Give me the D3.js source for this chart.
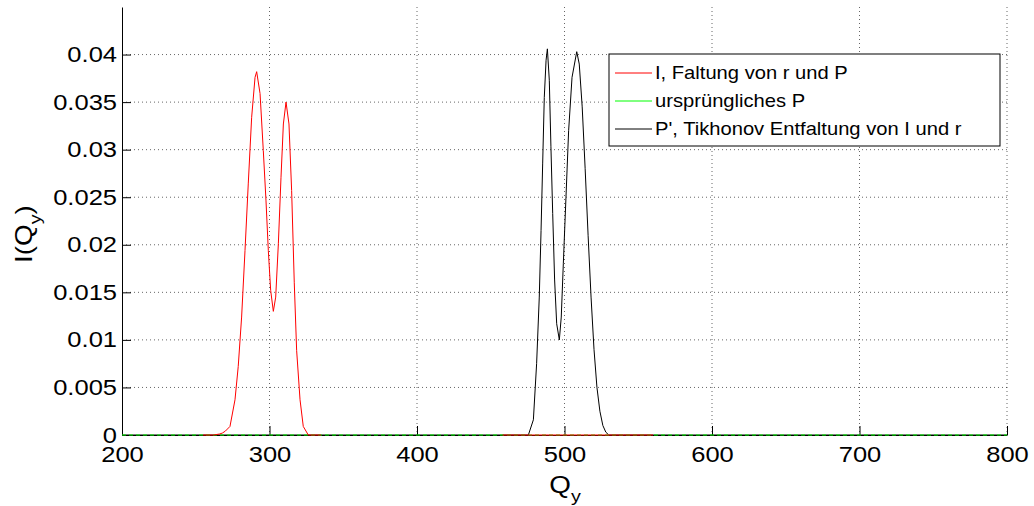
<!DOCTYPE html>
<html>
<head>
<meta charset="utf-8">
<script src="https://cdn.jsdelivr.net/npm/d3@7"></script>
<style>
  html, body { margin: 0; padding: 0; background: #fff; }
  svg { display: block; font-family: Arial, "Liberation Sans", sans-serif; }
</style>
</head>
<body>
<svg id="chart" width="1034" height="506"></svg>
<script>
// Q_y positions and intensities of the convolved signal I (red)
const redQ = [255, 262, 266, 268, 270, 273.2, 276.6, 278.8, 281.1, 283.4, 285.6, 287.9, 290.2, 291.3, 293.6, 295.8, 297.6, 299.2, 300.8, 302.6, 304.2, 306, 307.8, 309.4, 311.2, 313.2, 315, 316.8, 318.4, 320.7, 322.9, 326.3, 335];
const redI = [0, 0, 0.0001, 0.0002, 0.0004, 0.0009, 0.0037, 0.0072, 0.0124, 0.0194, 0.0264, 0.0334, 0.0376, 0.0382, 0.0359, 0.0299, 0.0247, 0.0194, 0.0152, 0.0130, 0.0145, 0.0201, 0.0271, 0.0327, 0.0350, 0.0327, 0.0257, 0.0160, 0.0089, 0.0037, 0.0009, 0, 0];
// flat tail of I near the deconvolved peaks
const redTailQ = [458, 500, 560];
const redTailI = [0, 0, 0];

// original P (green), zero over the whole range
const greenQ = [200, 800];
const greenI = [0, 0];

// Tikhonov deconvolution P' (black)
const blackQ = [200, 470, 475.5, 478.9, 481.1, 482.9, 484.1, 485.2, 486.3, 487.5, 488.4, 489.7, 490.8, 492, 493.3, 494.7, 496.5, 497.8, 499.2, 501, 502.8, 505.1, 508.3, 510, 512, 514, 516, 518, 520, 522, 524, 526, 528, 530, 540, 800];
const blackI = [0, 0, 0, 0.0016, 0.0075, 0.0145, 0.0215, 0.0285, 0.0355, 0.0394, 0.0406, 0.0373, 0.0303, 0.0233, 0.0163, 0.0117, 0.0100, 0.0124, 0.0180, 0.0250, 0.0320, 0.0376, 0.0403, 0.0390, 0.0345, 0.0280, 0.0210, 0.0145, 0.0090, 0.0050, 0.0025, 0.0010, 0.0003, 0, 0, 0];

const xTicks = [200, 300, 400, 500, 600, 700, 800];
const yTicks = [0, 0.005, 0.01, 0.015, 0.02, 0.025, 0.03, 0.035, 0.04];
const yTickLabels = ["0", "0.005", "0.01", "0.015", "0.02", "0.025", "0.03", "0.035", "0.04"];

const legendLabels = ["I, Faltung von r und P", "ursprüngliches P", "P', Tikhonov Entfaltung von I und r"];
const legendColors = ["#ff0000", "#00ff00", "#000000"];

const svg = d3.select("#chart");
const plotLeft = 122, plotRight = 1007, plotTop = 7, plotBottom = 435;
const stretch = 1.16; // glyphs are drawn a little wider than the plain font

const x = d3.scaleLinear().domain([200, 800]).range([plotLeft, plotRight]);
const y = d3.scaleLinear().domain([0, 0.045]).range([plotBottom, plotTop]);

// dotted grid
const grid = svg.append("g");
grid.selectAll("line.gx").data(xTicks.slice(1)).join("line")
  .attr("x1", d => x(d)).attr("x2", d => x(d))
  .attr("y1", plotTop).attr("y2", plotBottom)
  .attr("stroke", "#000").attr("stroke-opacity", 0.6)
  .attr("stroke-dasharray", "1,3");
grid.selectAll("line.gy").data(yTicks.slice(1)).join("line")
  .attr("x1", plotLeft).attr("x2", plotRight)
  .attr("y1", d => y(d)).attr("y2", d => y(d))
  .attr("stroke", "#000").attr("stroke-opacity", 0.6)
  .attr("stroke-dasharray", "1,3");

// axes with inward ticks
const xAxis = svg.append("g").attr("transform", `translate(0,${plotBottom})`)
  .call(d3.axisBottom(x).tickValues(xTicks).tickSizeInner(-9).tickSizeOuter(0).tickPadding(11));
const yAxis = svg.append("g").attr("transform", `translate(${plotLeft},0)`)
  .call(d3.axisLeft(y).tickValues(yTicks).tickFormat((d, i) => yTickLabels[i]).tickSizeInner(-9).tickSizeOuter(0).tickPadding(5));
[xAxis, yAxis].forEach(a => {
  a.select(".domain").attr("stroke", "#000").attr("stroke-width", 1);
  a.selectAll(".tick line").attr("stroke", "#000");
  a.selectAll("text").attr("font-size", 22).attr("fill", "#000")
    .attr("font-family", "Arial, 'Liberation Sans', sans-serif");
});
xAxis.selectAll("text").attr("dy", "0.71em").attr("transform", `scale(${stretch},1)`);
yAxis.selectAll("text").attr("x", -5 / stretch).attr("transform", `scale(${stretch},1)`);

// curves
const line = d3.line().x(d => x(d[0])).y(d => y(d[1]));
const plots = svg.append("g");
plots.append("path").datum(d3.zip(blackQ, blackI)).attr("d", line)
  .attr("fill", "none").attr("stroke", "#000").attr("stroke-width", 1);
plots.append("path").datum(d3.zip(greenQ, greenI)).attr("d", line)
  .attr("fill", "none").attr("stroke", "#00ff00").attr("stroke-width", 1.2)
  .attr("stroke-dasharray", "4,3");
plots.append("path").datum(d3.zip(redQ, redI)).attr("d", line)
  .attr("fill", "none").attr("stroke", "#ff0000").attr("stroke-width", 1);
plots.append("path").datum(d3.zip(redTailQ, redTailI)).attr("d", line)
  .attr("fill", "none").attr("stroke", "#ff0000").attr("stroke-width", 1.2);

// axis titles
const xt = svg.append("text").attr("transform", `translate(565,493) scale(${stretch},1)`)
  .attr("text-anchor", "middle").attr("font-size", 24).attr("fill", "#000");
xt.append("tspan").text("Q");
xt.append("tspan").attr("font-size", 17).attr("dy", 9).text("y");

const yt = svg.append("text").attr("transform", `translate(32,234) rotate(-90) scale(${stretch},1)`)
  .attr("text-anchor", "middle").attr("font-size", 24).attr("fill", "#000");
yt.append("tspan").text("I(Q");
yt.append("tspan").attr("font-size", 17).attr("dy", 9).text("y");
yt.append("tspan").attr("dy", -9).text(")");

// legend
const lg = svg.append("g").attr("transform", "translate(609,54)");
lg.append("rect").attr("width", 391).attr("height", 92)
  .attr("fill", "#fff").attr("stroke", "#000").attr("stroke-width", 1);
legendLabels.forEach((lab, i) => {
  const cy = 19 + i * 28;
  lg.append("line").attr("x1", 6).attr("x2", 43).attr("y1", cy).attr("y2", cy)
    .attr("stroke", legendColors[i]).attr("stroke-width", 1);
  lg.append("text").attr("transform", `translate(46,${cy}) scale(1.12,1)`).attr("dy", "0.35em")
    .attr("font-size", 18).attr("fill", "#000").text(lab);
});
</script>
</body>
</html>
